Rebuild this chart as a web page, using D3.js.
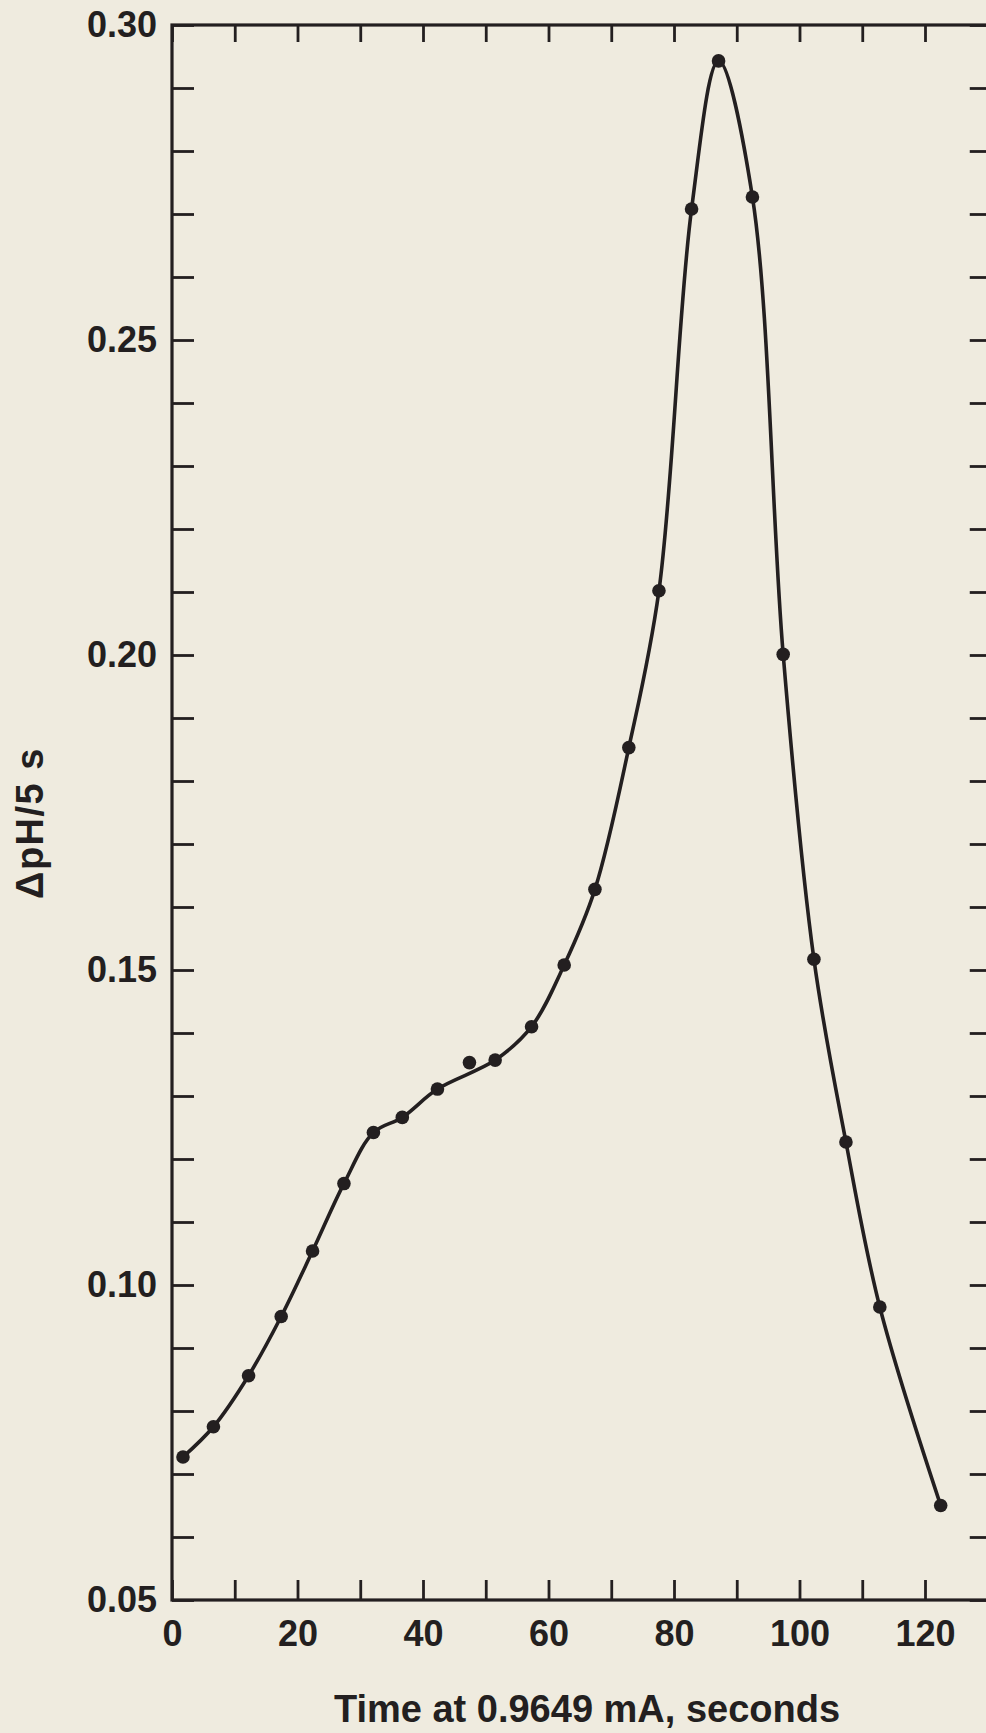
<!DOCTYPE html>
<html>
<head>
<meta charset="utf-8">
<script src="https://cdn.jsdelivr.net/npm/d3@7"></script>
<style>
  html, body { margin: 0; padding: 0; background: #efebdf; }
  svg { display: block; }
  text { font-family: "Liberation Sans", Arial, Helvetica, sans-serif; font-weight: bold; fill: #231f20; }
</style>
</head>
<body>
<svg id="chart" width="986" height="1733"></svg>
<script>
// ---- data ----
const times = [1.75, 6.6, 12.2, 17.4, 22.4, 27.4, 32.1, 36.7, 42.3, 47.4, 51.5, 57.3,
               62.5, 67.4, 72.8, 77.6, 82.8, 87.1, 92.5, 97.4, 102.3, 107.4, 112.8, 122.5];
const dph = [0.0727, 0.0775, 0.0856, 0.0950, 0.1054, 0.1161, 0.1242, 0.1266, 0.1311, 0.1353, 0.1357, 0.1410,
             0.1508, 0.1628, 0.1853, 0.2102, 0.2708, 0.2943, 0.2727, 0.2001, 0.1517, 0.1227, 0.0965, 0.0650];
// points that lie off the smooth hand-drawn curve
const offCurveTimes = [47.4];
const xTickValues = [0, 10, 20, 30, 40, 50, 60, 70, 80, 90, 100, 110, 120, 130];
const xTickLabels = [0, 20, 40, 60, 80, 100, 120];
const yTickValues = d3.range(5, 31).map(d => d / 100);
const yTickLabels = [0.05, 0.10, 0.15, 0.20, 0.25, 0.30];
const xTitle = "Time at 0.9649 mA, seconds";
const yTitle = "\u0394pH/5 s";

(function () {
const ink = "#231f20";
const svg = d3.select("#chart");
const mLeft = 172, mTop = 25, mBottom = 1600;
const x = d3.scaleLinear().domain([0, 130]).range([mLeft, mLeft + 130 * 6.275]);
const y = d3.scaleLinear().domain([0.05, 0.30]).range([mBottom, mTop]);

const data = times.map((t, i) => ({ t, v: dph[i] }));

function styleAxis(g) {
  g.select(".domain").remove();
  g.selectAll(".tick line").attr("stroke", ink).attr("stroke-width", 2.8);
  g.selectAll(".tick text").style("font-size", "36px").style("font-weight", "bold")
    .attr("fill", ink).style("font-family", "'Liberation Sans', Arial, sans-serif");
}

// bottom axis
svg.append("g").attr("transform", `translate(0,${mBottom})`)
  .call(d3.axisBottom(x).tickValues(xTickValues).tickSize(-20).tickPadding(20)
    .tickFormat(d => xTickLabels.includes(d) ? d3.format("d")(d) : ""))
  .call(styleAxis);
// top axis
svg.append("g").attr("transform", `translate(0,${mTop})`)
  .call(d3.axisTop(x).tickValues(xTickValues).tickSize(-17).tickFormat(""))
  .call(styleAxis);
// left axis
svg.append("g").attr("transform", `translate(${mLeft},0)`)
  .call(d3.axisLeft(y).tickValues(yTickValues).tickSize(-22).tickPadding(15)
    .tickFormat(d => yTickLabels.some(v => Math.abs(v - d) < 1e-9) ? d3.format(".2f")(d) : ""))
  .call(styleAxis);
// right axis
svg.append("g").attr("transform", `translate(${x(130)},0)`)
  .call(d3.axisRight(y).tickValues(yTickValues).tickSize(-18).tickFormat(""))
  .call(styleAxis);

// frame
svg.append("rect")
  .attr("x", x(0)).attr("y", y(0.30))
  .attr("width", x(130) - x(0)).attr("height", y(0.05) - y(0.30))
  .attr("fill", "none").attr("stroke", ink).attr("stroke-width", 3.2);

// smooth curve
const curveData = data.filter(d => !offCurveTimes.includes(d.t));
const line = d3.line().x(d => x(d.t)).y(d => y(d.v)).curve(d3.curveCatmullRom.alpha(0.5));
svg.append("path").datum(curveData)
  .attr("d", line).attr("fill", "none").attr("stroke", ink).attr("stroke-width", 3.6)
  .attr("stroke-linejoin", "round");

// points
svg.append("g").selectAll("circle").data(data).join("circle")
  .attr("cx", d => x(d.t)).attr("cy", d => y(d.v)).attr("r", 6.8).attr("fill", ink);

// titles
svg.append("text").attr("x", 587).attr("y", 1722)
  .attr("text-anchor", "middle").style("font-size", "38px").text(xTitle);
svg.append("text").attr("transform", "translate(43,823) rotate(-90)")
  .attr("text-anchor", "middle").style("font-size", "38px").style("letter-spacing", "1.5px").text(yTitle);
})();
</script>
</body>
</html>
